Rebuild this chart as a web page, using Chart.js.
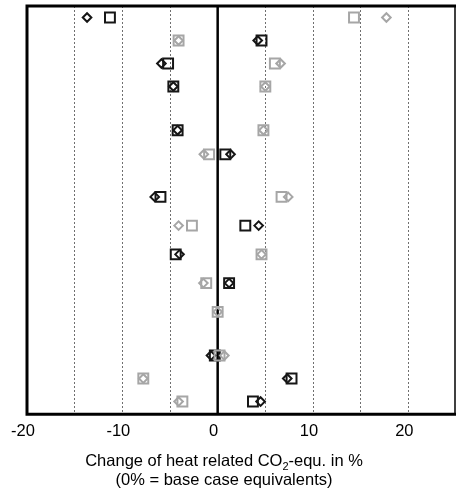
<!DOCTYPE html>
<html>
<head>
<meta charset="utf-8">
<script src="https://cdn.jsdelivr.net/npm/chart.js@4/dist/chart.umd.min.js"></script>
<style>
  html, body { margin: 0; padding: 0; background: #fff; overflow: hidden; }
  #wrap { width: 456px; height: 488px; }
</style>
</head>
<body>
<div id="wrap"><canvas id="co2Chart" width="456" height="488"></canvas></div>
<script>
// --- data: change of heat related CO2-equ. (%) per row ---
// row positions on the vertical axis (top = 1), empty slots between groups
const rowPos = [1, 2, 3, 4, 5.9, 6.95, 8.8, 10.05, 11.3, 12.55, 13.8, 15.7, 16.7, 17.7];

const blackDiamond = [-13.7, 4.2, -5.9, -4.65, -4.2, 1.35, -6.6, 4.3, -4.0, 1.2, null, -0.7, 7.3, 4.5];
const blackSquare  = [-11.3, 4.6, -5.2, -4.65, -4.2, 0.8, -6.0, 2.9, -4.4, 1.2, null, -0.3, 7.75, 3.7];
const grayDiamond  = [17.7, -4.1, 6.6, 5.0, 4.8, -1.45, 7.4, -4.1, 4.6, -1.5, 0, 0.7, -7.8, -4.1];
const graySquare   = [14.3, -4.1, 6.0, 5.0, 4.8, -0.9, 6.7, -2.7, 4.6, -1.2, 0, 0.2, -7.8, -3.7];

const xTickLabels = [-20, -10, 0, 10, 20];

const BLACK = '#161616';
const GRAY = '#a6a6a6';
const FONT = "'Liberation Sans', Arial, sans-serif";

function toPoints(values) {
    return values.map((v, i) => ({ x: v, y: rowPos[i] }));
}

function makeSet(label, values, color, style, radius) {
    return {
        label: label,
        data: toPoints(values),
        pointStyle: style,
        pointRadius: radius,
        pointHoverRadius: radius,
        pointBorderWidth: 2,
        borderColor: color,
        backgroundColor: 'rgba(0,0,0,0)',
        showLine: false
    };
}

// frame, zero line and the two-line axis title with CO2 subscript
const framePlugin = {
    id: 'frame',
    beforeDatasetsDraw(chart) {
        const { ctx, chartArea, scales } = chart;
        const x0 = scales.x.getPixelForValue(0);
        ctx.save();
        ctx.strokeStyle = '#000';
        ctx.lineWidth = 2.5;
        ctx.beginPath();
        ctx.moveTo(x0, chartArea.top);
        ctx.lineTo(x0, chartArea.bottom);
        ctx.stroke();
        ctx.restore();
    },
    afterDraw(chart) {
        const { ctx, chartArea } = chart;
        const { left, right, top, bottom } = chartArea;
        ctx.save();
        ctx.strokeStyle = '#000';
        ctx.lineWidth = 3;
        ctx.beginPath();
        ctx.moveTo(left - 1.5, top);
        ctx.lineTo(right, top);
        ctx.moveTo(left - 1.5, bottom);
        ctx.lineTo(right, bottom);
        ctx.moveTo(left, top);
        ctx.lineTo(left, bottom);
        ctx.stroke();
        ctx.lineWidth = 1.5;
        ctx.beginPath();
        ctx.moveTo(right - 1, top);
        ctx.lineTo(right - 1, bottom);
        ctx.stroke();

        // axis title
        const cx = chart.width / 2 - 4;
        const big = '16.5px ' + FONT;
        const small = '11px ' + FONT;
        const p1 = 'Change of heat related CO';
        const p2 = '2';
        const p3 = '-equ. in %';
        ctx.fillStyle = '#000';
        ctx.textBaseline = 'alphabetic';
        ctx.textAlign = 'left';
        ctx.font = big;
        const w1 = ctx.measureText(p1).width;
        const w3 = ctx.measureText(p3).width;
        ctx.font = small;
        const w2 = ctx.measureText(p2).width;
        let x = cx - (w1 + w2 + w3) / 2;
        const y1 = bottom + 52;
        ctx.font = big;
        ctx.fillText(p1, x, y1);
        x += w1;
        ctx.font = small;
        ctx.fillText(p2, x, y1 + 4);
        x += w2;
        ctx.font = big;
        ctx.fillText(p3, x, y1);
        ctx.textAlign = 'center';
        ctx.fillText('(0% = base case equivalents)', cx, y1 + 19);
        ctx.restore();
    }
};

new Chart(document.getElementById('co2Chart'), {
    type: 'scatter',
    data: {
        datasets: [
            makeSet('gray square', graySquare, GRAY, 'rect', 7),
            makeSet('gray diamond', grayDiamond, GRAY, 'rectRot', 4.3),
            makeSet('black square', blackSquare, BLACK, 'rect', 7),
            makeSet('black diamond', blackDiamond, BLACK, 'rectRot', 4.3)
        ]
    },
    options: {
        responsive: false,
        animation: false,
        events: [],
        layout: { autoPadding: false, padding: { left: 27, right: 0, top: 6, bottom: 40 } },
        plugins: {
            legend: { display: false },
            tooltip: { enabled: false }
        },
        scales: {
            x: {
                type: 'linear',
                min: -20,
                max: 25,
                afterBuildTicks(scale) {
                    scale.ticks = [-20, -15, -10, -5, 0, 5, 10, 15, 20, 25].map(v => ({ value: v }));
                },
                // plot runs right up to the canvas edge
                afterFit(scale) {
                    scale.paddingRight = 0;
                },
                ticks: {
                    autoSkip: false,
                    maxRotation: 0,
                    padding: 7,
                    labelOffset: -4,
                    color: '#000',
                    font: { family: FONT, size: 16.5 },
                    callback: v => xTickLabels.includes(v) ? String(v) : ''
                },
                grid: {
                    drawTicks: false,
                    lineWidth: 1,
                    color: c => (c.tick && [-20, 0, 25].includes(c.tick.value)) ? 'rgba(0,0,0,0)' : '#6f6f6f'
                },
                border: { display: false, dash: [2, 2] }
            },
            y: {
                type: 'linear',
                display: false,
                reverse: true,
                min: 0.5,
                max: 18.25
            }
        }
    },
    plugins: [framePlugin]
});
</script>
</body>
</html>
